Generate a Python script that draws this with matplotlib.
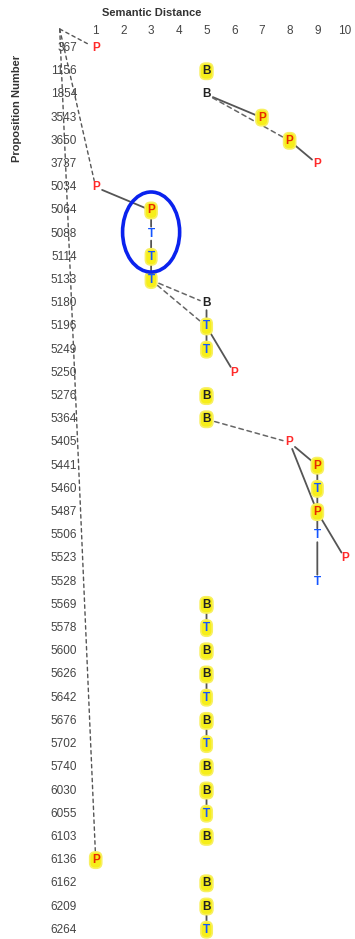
import matplotlib
matplotlib.use("Agg")
import matplotlib.pyplot as plt
from matplotlib.patches import Ellipse

plt.rcParams['font.family'] = ['Liberation Sans', 'DejaVu Sans']

# proposition rows (top to bottom)
props = [367, 1156, 1854, 3543, 3650, 3737, 5034, 5064, 5088, 5114, 5133,
         5180, 5196, 5249, 5250, 5276, 5364, 5405, 5441, 5460, 5487, 5506,
         5523, 5528, 5569, 5578, 5600, 5626, 5642, 5676, 5702, 5740, 6030,
         6055, 6103, 6136, 6162, 6209, 6264]
kinds = ['P', 'B', 'B', 'P', 'P', 'P', 'P', 'P', 'T', 'T', 'T', 'B', 'T', 'T',
         'P', 'B', 'B', 'P', 'P', 'T', 'P', 'T', 'P', 'T', 'B', 'T', 'B', 'B',
         'T', 'B', 'T', 'B', 'B', 'T', 'B', 'P', 'B', 'B', 'T']
dist = [1, 5, 5, 7, 8, 9, 1, 3, 3, 3, 3, 5, 5, 5, 6, 5, 5, 8, 9, 9, 9, 9,
        10, 9, 5, 5, 5, 5, 5, 5, 5, 5, 5, 5, 5, 1, 5, 5, 5]
highlight = [0, 1, 0, 1, 1, 0, 0, 1, 0, 1, 1, 0, 1, 1, 0, 1, 1, 0, 1, 1, 1, 0,
             0, 0, 1, 1, 1, 1, 1, 1, 1, 1, 1, 1, 1, 1, 1, 1, 1]

solid_links = [(2, 3), (4, 5), (6, 7), (7, 8), (8, 9), (9, 10), (11, 12),
               (12, 13), (12, 14), (17, 18), (17, 20), (18, 19), (19, 20),
               (20, 21), (20, 22), (21, 23), (24, 25), (27, 28), (29, 30),
               (32, 33), (37, 38)]
dashed_links = [(2, 4), (10, 11), (10, 12), (16, 17)]
root = (-0.3, -0.82)
root_links = [0, 6, 35]
x_ticks = list(range(1, 11))

colors = {'P': '#ff2a2a', 'B': '#222222', 'T': '#1455ff'}

fig = plt.figure(figsize=(3.55, 9.39), dpi=100)
ax = fig.add_axes([0, 0, 1, 1])
ax.set_xlim(-2.455, 10.36)
ax.set_ylim(38.4, -2.07)
ax.axis('off')


def gap(i):
    # leave room round plain letters, highlighted ones cover the line end
    return 0 if highlight[i] else 5


def link(p0, p1, s0, s1, **style):
    ax.annotate('', xy=p1, xytext=p0, zorder=1,
                arrowprops=dict(arrowstyle='-', shrinkA=s0, shrinkB=s1, **style))


for a, b in solid_links:
    link((dist[a], a), (dist[b], b), gap(a), gap(b), color='#555555', lw=1.3)
for a, b in dashed_links:
    link((dist[a], a), (dist[b], b), gap(a), gap(b), color='#666666', lw=1.1,
         linestyle=(0, (3, 2.5)))
for b in root_links:
    link(root, (dist[b], b), 0, gap(b), color='#555555', lw=1.0,
         linestyle=(0, (2.5, 2.5)))

for i, (k, d, h) in enumerate(zip(kinds, dist, highlight)):
    col = colors[k]
    box = None
    if h:
        box = dict(boxstyle='round,pad=0.18,rounding_size=0.45',
                   facecolor='#f6ee1a', edgecolor='#f8f060', lw=1.2)
        if k == 'P':
            col = '#e82a00'
    ax.text(d, i, k, color=col, fontsize=8.5, fontweight='bold',
            ha='center', va='center', bbox=box, zorder=3)

# row labels
ytr = ax.get_yaxis_transform()
for i, p in enumerate(props):
    ax.text(77 / 355, i, str(p), transform=ytr, ha='right', va='center',
            fontsize=8.5, color='#444444', zorder=0)

# distance labels along the top
xtr = ax.get_xaxis_transform()
for t in x_ticks:
    ax.text(t, 1 - 31 / 939, str(t), transform=xtr, ha='center', va='center',
            fontsize=8.5, color='#444444')

# circled T chain
ax.add_patch(Ellipse((3, 7.93), 2.06, 3.45, fill=False, edgecolor='#0a22ee',
                     lw=2.6, zorder=4))

fig.text(152 / 355, 1 - 13 / 939, 'Semantic Distance', ha='center', va='center',
         fontsize=8, fontweight='bold', color='#333333')
fig.text(17 / 355, 1 - 108 / 939, 'Proposition Number', ha='center', va='center',
         rotation=90, fontsize=8, fontweight='bold', color='#333333')

fig.savefig('out.png', dpi=100, facecolor='white')
